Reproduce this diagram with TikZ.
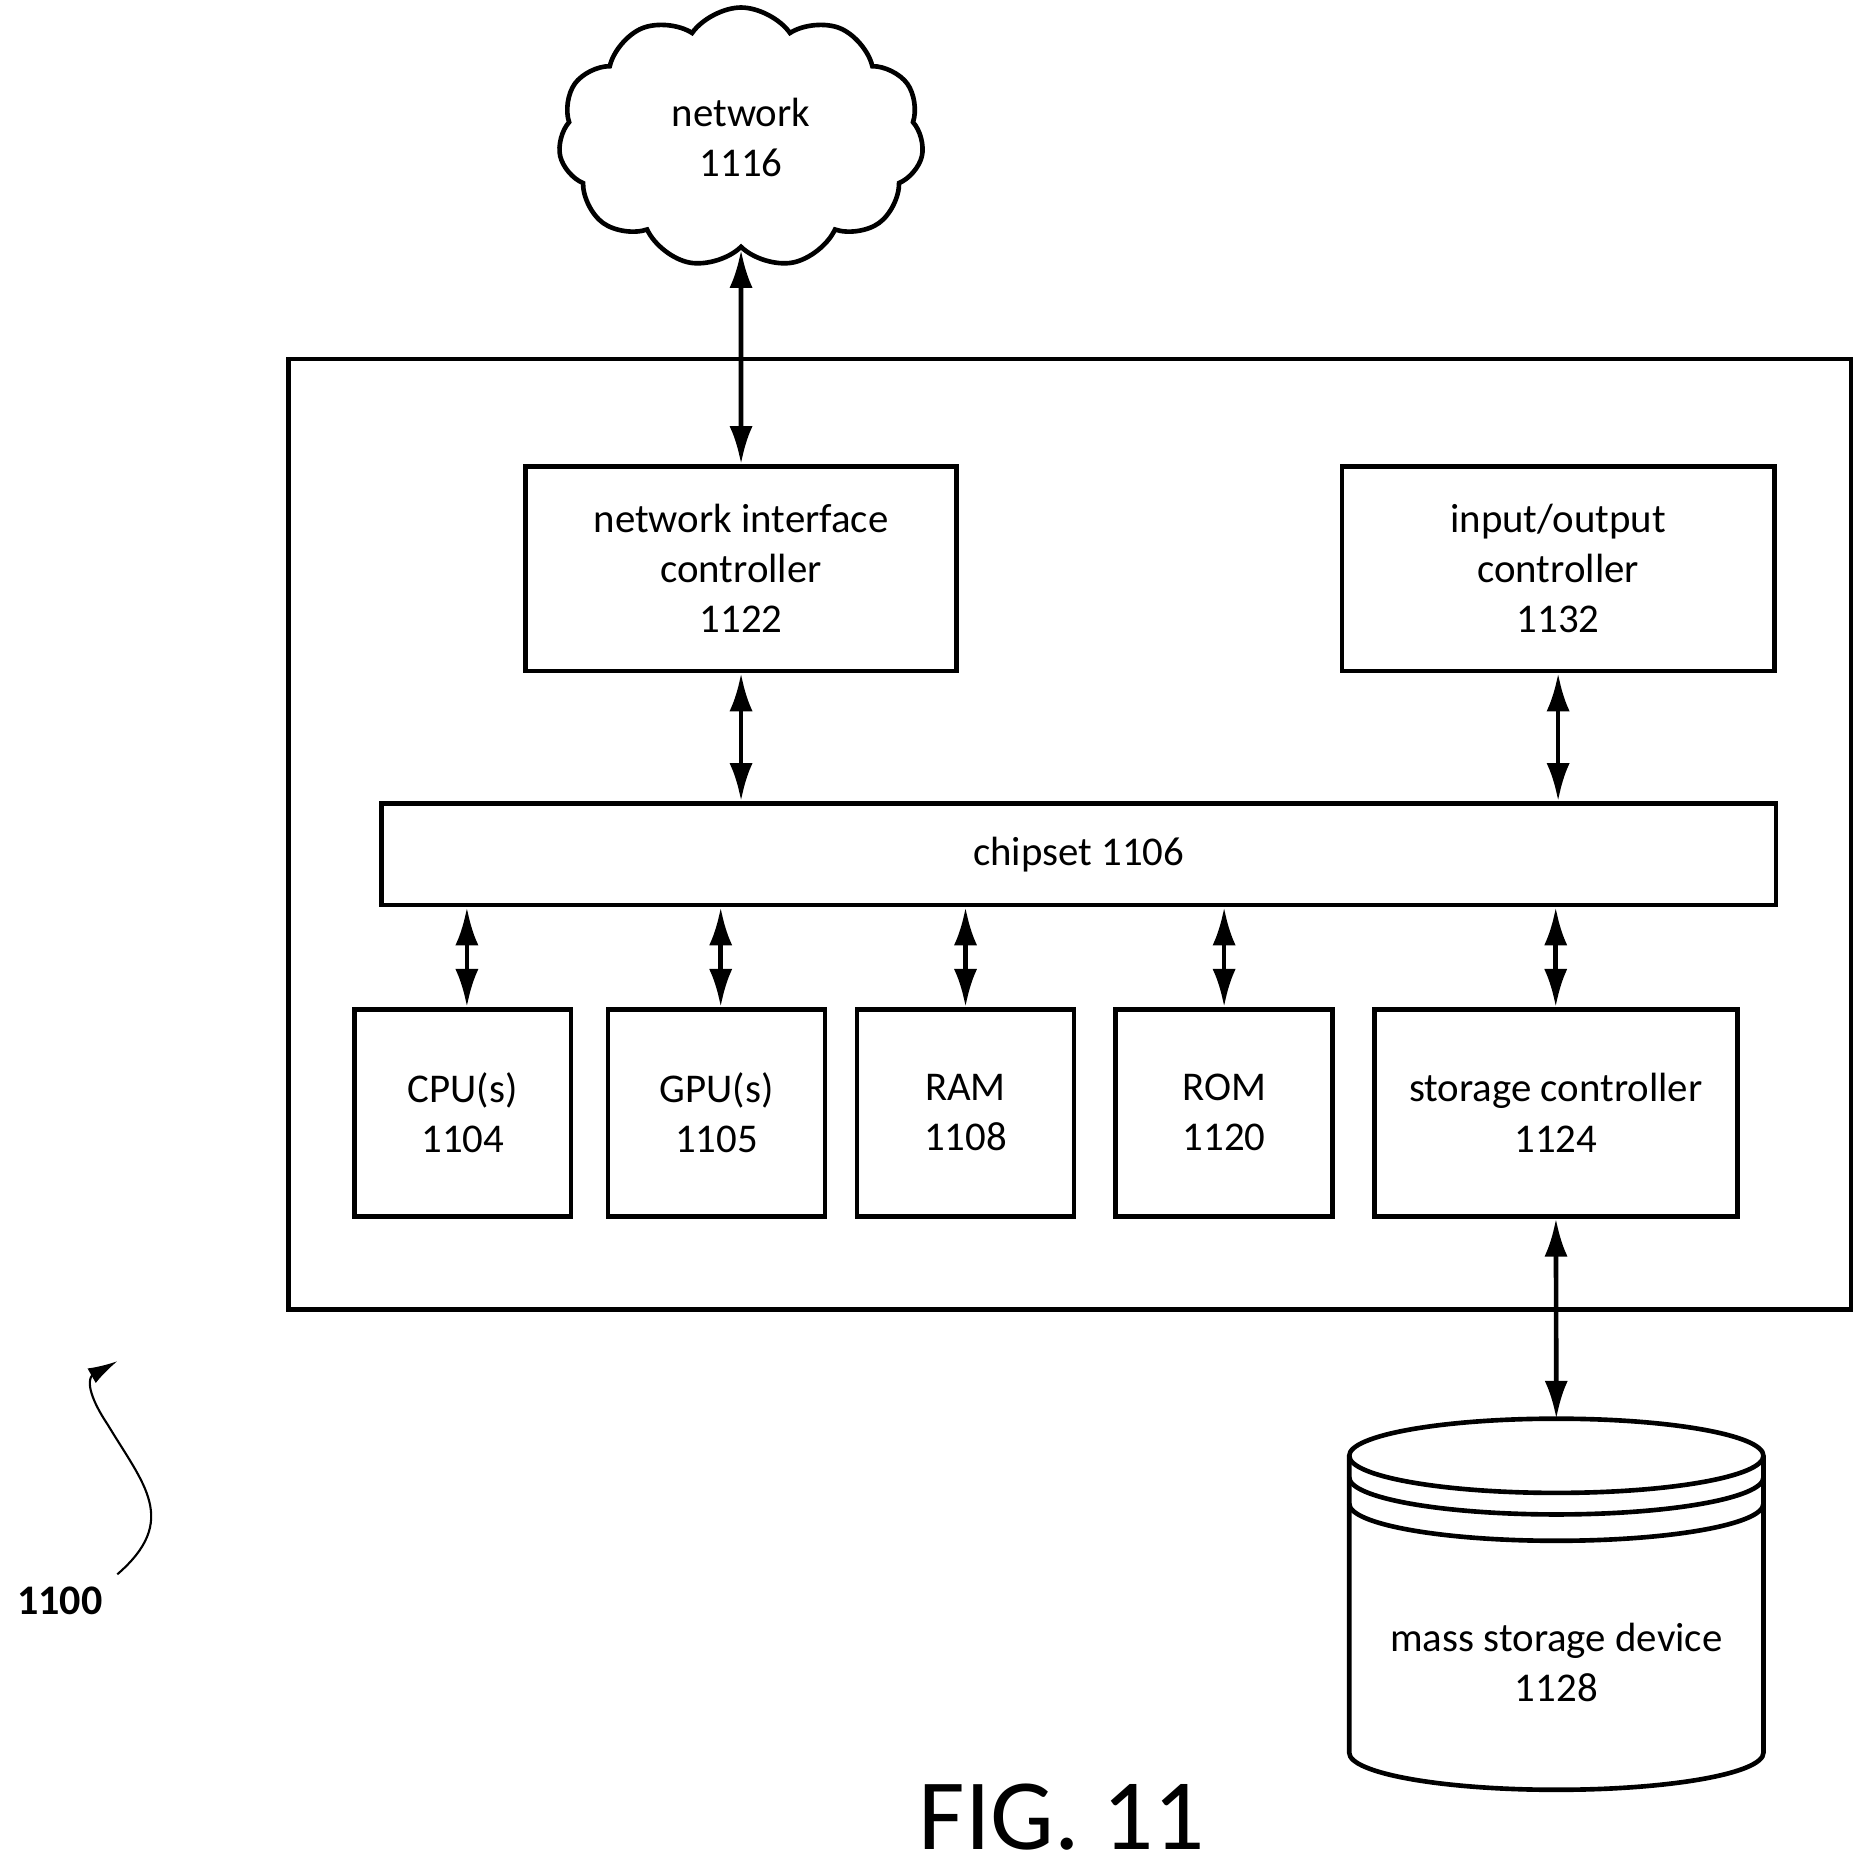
\documentclass[tikz,border=0pt]{standalone}
\usepackage{fontspec}
\setmainfont{Carlito}
\usetikzlibrary{shapes.symbols,arrows.meta,positioning}
\begin{document}
\begin{tikzpicture}[
        x=0.01cm, y=-0.01cm,
        font=\fontsize{9.7}{11.9}\selectfont,
        box/.style={
            rectangle,
            draw,
            line width=1.1pt,
            align=center,
            inner sep=0pt
        },
        arrow/.style={
            {Latex[length=9pt,width=5.5pt]}-{Latex[length=9pt,width=5.5pt]},
            line width=1.1pt
        }
    ]
    \useasboundingbox (0,0) rectangle (1560,1562);
    % Network cloud
    \node[cloud, draw, line width=1.1pt, cloud puffs=11, cloud puff arc=110,
        minimum width=3.05cm, minimum height=1.8cm, align=center] (net) at (619,115)
        {network\\1116};
    % Outer computer box
    \draw[line width=1.1pt] (241,300) rectangle (1546,1094);
    % Controllers
    \node[box, minimum width=3.6cm, minimum height=1.71cm] (nic) at (619,475)
        {network interface\\controller\\1122};
    \node[box, minimum width=3.61cm, minimum height=1.71cm] (ioc) at (1301.5,475)
        {input/output\\controller\\1132};
    \node[box, minimum width=11.64cm, minimum height=0.85cm] (chip) at (901,713.5)
        {chipset 1106};
    % Components
    \node[box, minimum width=1.81cm, minimum height=1.73cm] (cpu) at (386.5,929.5) {CPU(s)\\1104};
    \node[box, minimum width=1.81cm, minimum height=1.73cm] (gpu) at (598.5,929.5) {GPU(s)\\1105};
    \node[box, minimum width=1.81cm, minimum height=1.73cm] (ram) at (806.5,929.5) {RAM\\1108};
    \node[box, minimum width=1.81cm, minimum height=1.73cm] (rom) at (1022.5,929.5) {ROM\\1120};
    \node[box, minimum width=3.03cm, minimum height=1.73cm] (stc) at (1299.5,929.5) {storage controller\\1124};
    % Mass storage cylinder
    \coordinate (disk) at (1300,1185);
    \draw[line width=1.1pt] (1127,1216) arc[start angle=180, end angle=0, x radius=173, y radius=-31]
        -- (1473,1464) arc[start angle=0, end angle=-180, x radius=173, y radius=-31] -- cycle;
    \foreach \d in {0,18,40}
        \draw[line width=1.1pt] (1127,1216+\d) arc[start angle=180, end angle=360, x radius=173, y radius=-31];
    \node[align=center] (msd) at (1300,1389) {mass storage device\\1128};
    % Connections
    \draw[arrow] (net) -- (nic);
    \draw[arrow] (nic) -- (nic |- chip.north);
    \draw[arrow] (ioc) -- (ioc |- chip.north);
    \draw[arrow] (chip.south -| 390,0) -- (cpu.north -| 390,0);
    \draw[arrow] (chip.south -| 602,0) -- (gpu.north -| 602,0);
    \draw[arrow] (chip.south -| ram) -- (ram);
    \draw[arrow] (chip.south -| rom) -- (rom);
    \draw[arrow] (chip.south -| stc) -- (stc);
    \draw[arrow] (stc) -- (disk);
    % Reference label
    \node[font=\fontsize{10}{12}\selectfont\bfseries] (ref) at (50,1337) {1100};
    \draw[-{Latex[length=7pt,width=4pt]}, line width=0.5pt] (98,1315)
        .. controls (150,1270) and (120,1240) .. (90,1190)
        .. controls (70,1160) and (75,1150) .. (98,1137);
    % Figure caption
    \node[font=\fontsize{24}{28}\selectfont] (fig) at (887,1518) {FIG. 11};
\end{tikzpicture}
\end{document}
